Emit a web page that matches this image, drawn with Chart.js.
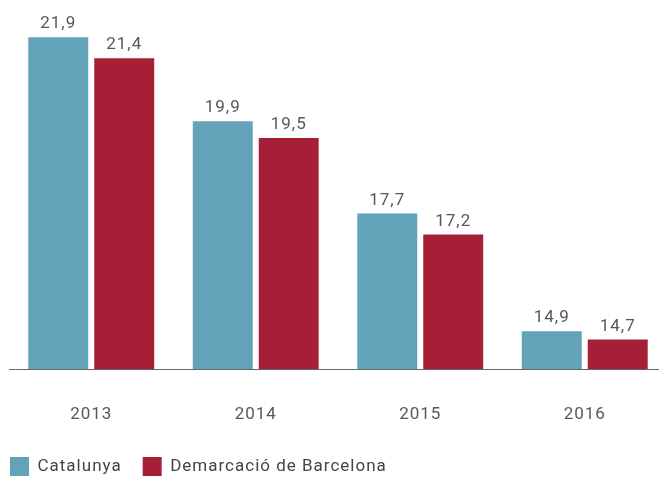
<!DOCTYPE html>
<html>
<head>
<meta charset="utf-8">
<script src="https://cdn.jsdelivr.net/npm/chart.js@4"></script>
<style>
  html, body { margin: 0; padding: 0; background: #fff; overflow: hidden; }
  #wrap { position: relative; width: 659px; height: 477px; overflow: hidden; }
  #chart { position: absolute; left: -11px; top: 0; }
</style>
</head>
<body>
<div id="wrap"><canvas id="chart" width="678" height="486"></canvas></div>
<script>
const years = ['2013', '2014', '2015', '2016'];
const catalunya = [21.9, 19.9, 17.7, 14.9];
const barcelona = [21.4, 19.5, 17.2, 14.7];
const seriesNames = ['Catalunya', 'Demarcació de Barcelona'];

const textColor = '#585858';
const fontFamily = 'Roboto, "DejaVu Sans", sans-serif';

// the reference type is a bit wider, so space the letters out
const spacing = {
  id: 'spacing',
  beforeUpdate(chart) { chart.ctx.letterSpacing = '1px'; },
  beforeDraw(chart) { chart.ctx.letterSpacing = '1px'; }
};

// value labels above each bar, with comma decimals
const valueLabels = {
  id: 'valueLabels',
  afterDatasetsDraw(chart) {
    const ctx = chart.ctx;
    ctx.save();
    ctx.font = '17px ' + fontFamily;
    ctx.fillStyle = textColor;
    ctx.textAlign = 'center';
    ctx.textBaseline = 'alphabetic';
    chart.data.datasets.forEach((ds, i) => {
      chart.getDatasetMeta(i).data.forEach((bar, j) => {
        ctx.fillText(ds.data[j].toFixed(1).replace('.', ','), bar.x, bar.y - 9);
      });
    });
    ctx.restore();
  }
};

const ctx = document.getElementById('chart').getContext('2d');
new Chart(ctx, {
  type: 'bar',
  data: {
    labels: years,
    datasets: [{
      label: seriesNames[0],
      data: catalunya,
      backgroundColor: '#62a3ba',
      barPercentage: 0.909,
      categoryPercentage: 0.802
    }, {
      label: seriesNames[1],
      data: barcelona,
      backgroundColor: '#a51f36',
      barPercentage: 0.909,
      categoryPercentage: 0.802
    }]
  },
  options: {
    responsive: false,
    animation: false,
    layout: { padding: { top: 33, left: 0, right: 0, bottom: 0 } },
    scales: {
      x: {
        grid: { display: false, drawTicks: false },
        border: { display: true, color: '#666', width: 1 },
        ticks: { color: textColor, padding: 36, font: { family: fontFamily, size: 17 } },
        afterFit(s) { s.height = 67; }
      },
      y: {
        min: 14,
        max: 22,
        grid: { display: false, drawTicks: false },
        border: { display: false },
        ticks: { display: false },
        afterFit(s) { s.width = 20; }
      }
    },
    plugins: {
      legend: {
        position: 'bottom',
        align: 'start',
        labels: {
          boxWidth: 19,
          boxHeight: 19,
          padding: 21,
          color: '#444',
          font: { family: fontFamily, size: 17 }
        }
      },
      tooltip: { enabled: false }
    }
  },
  plugins: [spacing, valueLabels]
});
</script>
</body>
</html>
